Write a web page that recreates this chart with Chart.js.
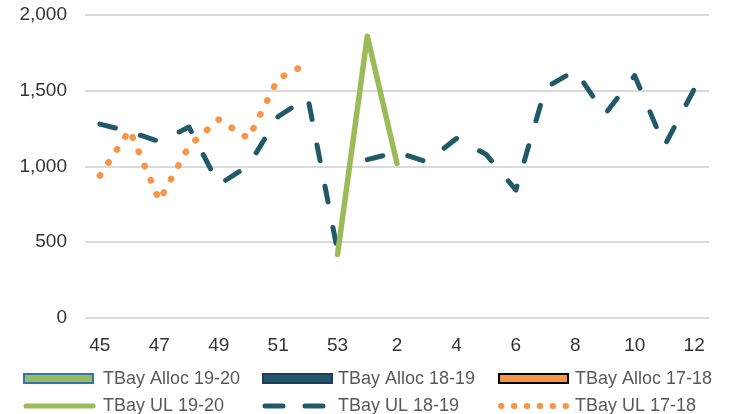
<!DOCTYPE html>
<html>
<head>
<meta charset="utf-8">
<script src="https://cdn.jsdelivr.net/npm/chart.js@4/dist/chart.umd.min.js"></script>
<style>
html,body{margin:0;padding:0;background:#fff;}
#wrap{position:relative;width:735px;height:414px;}
</style>
</head>
<body>
<div id="wrap"><canvas id="c" width="735" height="414"></canvas></div>
<script>
// ---- data ----
const weeks = ['45','46','47','48','49','50','51','52','53','1','2','3','4','5','6','7','8','9','10','11','12'];
const allocTBay1920 = [];
const allocTBay1819 = [];
const allocTBay1718 = [];
const ulTBay1920 = [null,null,null,null,null,null,null,null,420,1860,1020,null,null,null,null,null,null,null,null,null,null];
const ulTBay1819 = [1280,1230,1165,1260,880,1005,1330,1455,440,1045,1095,1030,1185,1080,845,1520,1635,1345,1600,1135,1510];
const ulTBay1718 = [940,1240,775,1135,1310,1185,1580,1680,null,null,null,null,null,null,null,null,null,null,null,null,null];
const yTickValues = [0,500,1000,1500,2000];
const seriesNames = ['TBay Alloc 19-20','TBay Alloc 18-19','TBay Alloc 17-18','TBay UL 19-20','TBay UL 18-19','TBay UL 17-18'];
// week after which the 18-19 line is not drawn in the source
const ul1819Breaks = ['53'];

const GREEN = '#9bbb59', TEAL = '#215968', ORANGE = '#f79646';

const legendPlugin = {
  id: 'gridLegend',
  afterDraw(chart) {
    const ctx = chart.ctx;
    const ds = chart.data.datasets;
    const colX = [24, 263, 499];
    const textX = [103, 338, 575];
    const rowY = [378.5, 406];
    ctx.save();
    ctx.font = '18px "Liberation Sans", Arial, sans-serif';
    ctx.fillStyle = '#595959';
    ctx.textBaseline = 'middle';
    ds.forEach((d, i) => {
      const r = Math.floor(i / 3), c = i % 3;
      const x = colX[c], y = rowY[r];
      if (d.type === 'bar') {
        ctx.fillStyle = d.backgroundColor;
        ctx.fillRect(x, y - 4.5, 69, 9);
        ctx.lineWidth = d.borderWidth;
        ctx.strokeStyle = d.borderColor;
        ctx.strokeRect(x, y - 4.5, 69, 9);
      } else {
        ctx.beginPath();
        ctx.strokeStyle = d.borderColor;
        ctx.lineWidth = d.legendWidth;
        ctx.lineCap = 'round';
        ctx.setLineDash(d.legendDash || []);
        ctx.moveTo(x + 2, y);
        ctx.lineTo(x + 69, y);
        ctx.stroke();
        ctx.setLineDash([]);
      }
      ctx.fillStyle = '#595959';
      ctx.fillText(d.label, textX[c], y + 0.5);
    });
    ctx.restore();
  }
};

new Chart(document.getElementById('c'), {
  type: 'line',
  data: {
    labels: weeks,
    datasets: [
      { type: 'bar', label: seriesNames[0], data: allocTBay1920, backgroundColor: GREEN, borderColor: '#2e75b6', borderWidth: 2, order: 6 },
      { type: 'bar', label: seriesNames[1], data: allocTBay1819, backgroundColor: TEAL, borderColor: '#1f3864', borderWidth: 2, order: 5 },
      { type: 'bar', label: seriesNames[2], data: allocTBay1718, backgroundColor: ORANGE, borderColor: '#000000', borderWidth: 2, order: 4 },
      { type: 'line', label: seriesNames[3], data: ulTBay1920, borderColor: GREEN, borderWidth: 5.5,
        borderCapStyle: 'round', borderJoinStyle: 'round', pointRadius: 0, spanGaps: false, order: 1,
        legendWidth: 5 },
      { type: 'line', label: seriesNames[4], data: ulTBay1819, borderColor: TEAL, borderWidth: 5,
        borderDash: [16, 26], borderCapStyle: 'round', borderJoinStyle: 'round', pointRadius: 0, order: 3,
        segment: { borderColor: c => ul1819Breaks.includes(weeks[c.p0DataIndex]) ? 'rgba(0,0,0,0)' : undefined },
        legendWidth: 5, legendDash: [18, 22] },
      { type: 'line', label: seriesNames[5], data: ulTBay1718, borderColor: ORANGE, borderWidth: 6.5,
        borderDash: [0.5, 15], borderCapStyle: 'round', borderJoinStyle: 'round', pointRadius: 0, order: 2,
        legendWidth: 6, legendDash: [0.5, 12.4] }
    ]
  },
  options: {
    responsive: false,
    animation: false,
    devicePixelRatio: 1,
    layout: { padding: { top: 15, right: 26, bottom: 58, left: 0 } },
    plugins: { legend: { display: false }, tooltip: { enabled: false } },
    scales: {
      x: {
        type: 'category',
        offset: true,
        grid: { display: false, drawTicks: false },
        border: { display: false },
        ticks: {
          autoSkip: false, maxRotation: 0, minRotation: 0, padding: 16,
          color: '#333333',
          font: { family: '"Liberation Sans", Arial, sans-serif', size: 19 },
          callback: (v, i) => (i % 2 === 0 ? weeks[i] : '')
        },
        afterFit: s => { s.height = 38; s.paddingLeft = 0; s.paddingRight = 0; }
      },
      y: {
        min: 0, max: 2000,
        afterBuildTicks: s => { s.ticks = yTickValues.map(v => ({ value: v })); },
        grid: { color: '#d9d9d9', lineWidth: 2, drawTicks: false },
        border: { display: false },
        ticks: {
          padding: 18,
          color: '#333333',
          font: { family: '"Liberation Sans", Arial, sans-serif', size: 19 },
          callback: v => v.toLocaleString('en-US')
        },
        afterFit: s => { s.width = 85; s.paddingTop = 0; s.paddingBottom = 0; }
      }
    }
  },
  plugins: [legendPlugin]
});
</script>
</body>
</html>
